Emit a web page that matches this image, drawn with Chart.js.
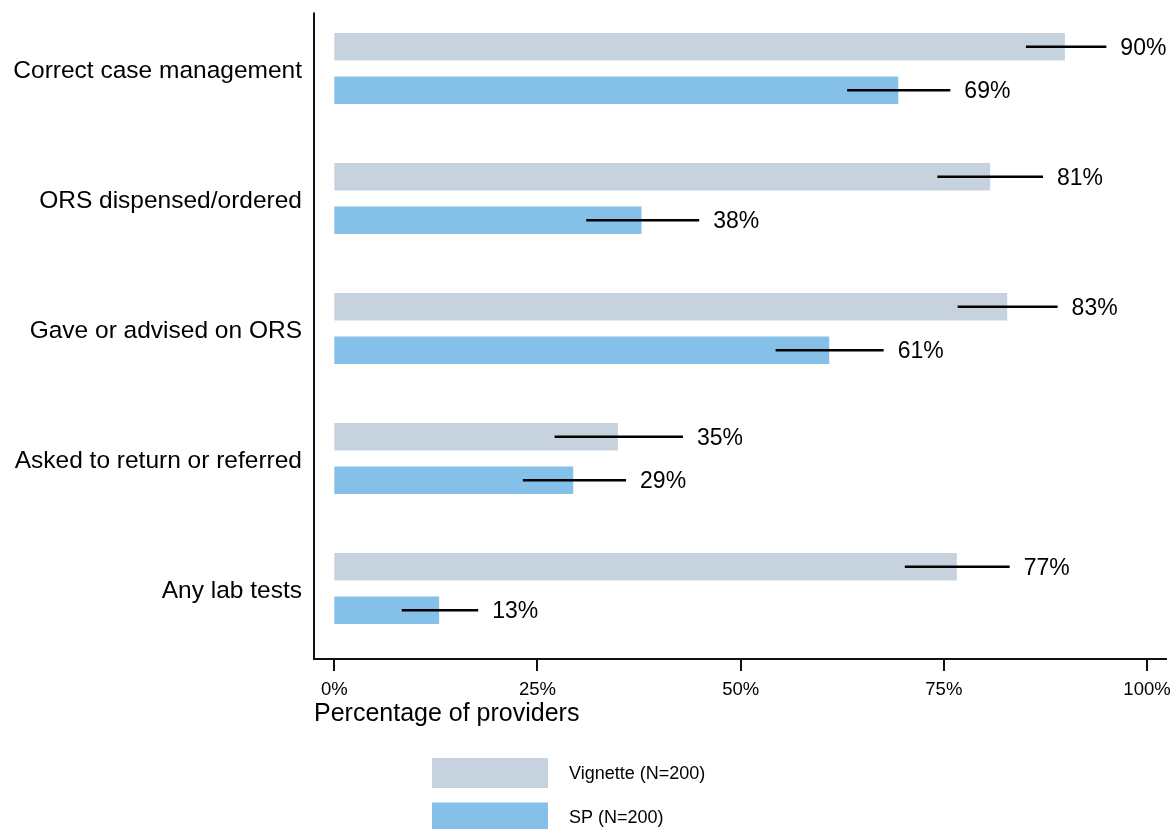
<!DOCTYPE html>
<html>
<head>
<meta charset="utf-8">
<script src="https://cdn.jsdelivr.net/npm/chart.js@4.4.1/dist/chart.umd.min.js"></script>
<style>
  body { margin: 0; background: #fff; }
  #wrap { width: 1174px; height: 829px; position: relative; }
</style>
</head>
<body>
<div id="wrap"><canvas id="canvas"></canvas></div>
<script>
var categories = ['Correct case management', 'ORS dispensed/ordered', 'Gave or advised on ORS', 'Asked to return or referred', 'Any lab tests'];
var vignette = [89.9, 80.7, 82.8, 34.9, 76.6];
var vignetteLo = [85.1, 74.2, 76.7, 27.1, 70.2];
var vignetteHi = [95.0, 87.2, 89.0, 42.9, 83.1];
var sp = [69.4, 37.8, 60.9, 29.4, 12.9];
var spLo = [63.1, 31.0, 54.3, 23.2, 8.3];
var spHi = [75.8, 44.9, 67.6, 35.9, 17.7];
var xTicks = [0, 25, 50, 75, 100];
var seriesNames = ['Vignette (N=200)', 'SP (N=200)'];

var FONT = "'Liberation Sans', Arial, Helvetica, sans-serif";
var ci = [[vignetteLo, vignetteHi], [spLo, spHi]];

// error bars + value labels
var ciPlugin = {
	id: 'ciBars',
	afterDatasetsDraw: function(chart) {
		var c = chart.ctx;
		var x = chart.scales.x;
		c.save();
		c.strokeStyle = '#000';
		c.lineWidth = 2.5;
		c.fillStyle = '#000';
		c.font = '23px ' + FONT;
		c.textAlign = 'left';
		c.textBaseline = 'middle';
		chart.data.datasets.forEach(function(ds, i) {
			var meta = chart.getDatasetMeta(i);
			meta.data.forEach(function(bar, j) {
				var lo = x.getPixelForValue(ci[i][0][j]);
				var hi = x.getPixelForValue(ci[i][1][j]);
				c.beginPath();
				c.moveTo(lo, bar.y);
				c.lineTo(hi, bar.y);
				c.stroke();
				c.fillText(Math.round(ds.data[j]) + '%', hi + 14, bar.y + 1.5);
			});
		});
		c.restore();
	}
};

// axis lines, ticks and the legend drawn stata-style
var axisPlugin = {
	id: 'axes',
	afterDraw: function(chart) {
		var c = chart.ctx;
		var a = chart.chartArea;
		var x = chart.scales.x;
		var yb = a.bottom + 5.5;
		c.save();
		c.strokeStyle = '#111';
		c.lineWidth = 2;
		c.beginPath();
		c.moveTo(a.left, a.top + 9);
		c.lineTo(a.left, yb + 1);
		c.moveTo(a.left, yb);
		c.lineTo(a.right, yb);
		xTicks.forEach(function(t) {
			var px = Math.round(x.getPixelForValue(t));
			c.moveTo(px, yb);
			c.lineTo(px, yb + 12);
		});
		c.stroke();

		// legend
		c.font = '18px ' + FONT;
		c.textAlign = 'left';
		c.textBaseline = 'middle';
		chart.data.datasets.forEach(function(ds, i) {
			var top = 758 + i * 44.5;
			c.fillStyle = ds.backgroundColor;
			c.fillRect(432, top, 116, 30);
			c.fillStyle = '#000';
			c.fillText(ds.label, 569, top + 16);
		});
		c.restore();
	}
};

const ctx = document.getElementById('canvas').getContext('2d');

const myChart = new Chart(ctx, {
  type: 'bar',
  data: {
	labels: categories,
	datasets: [{
	  label: seriesNames[0],
	  data: vignette,
	  backgroundColor: '#c6d3df',
	  borderWidth: 0
	}, {
	  label: seriesNames[1],
	  data: sp,
	  backgroundColor: '#85c0e9',
	  borderWidth: 0
	}]
  },
  options: {
	indexAxis: 'y',
	responsive: true,
	maintainAspectRatio: false,
	animation: false,
	categoryPercentage: 0.671,
	barPercentage: 0.63,
	layout: {
		padding: { top: 3.5, left: 0, right: 7, bottom: 99.8 }
	},
	scales: {
	  x: {
		type: 'linear',
		min: -2.5,
		max: 102.46,
		afterBuildTicks: function(s) {
			s.ticks = xTicks.map(function(v) { return { value: v }; });
		},
		afterFit: function(s) {
			s.height = 75.7;
			s.paddingLeft = 0;
			s.paddingRight = 0;
		},
		grid: { display: false, drawTicks: false },
		border: { display: false },
		ticks: {
			padding: 25,
			color: '#000',
			font: { family: FONT, size: 18.5 },
			maxRotation: 0,
			callback: function(v) { return v + '%'; }
		},
		title: {
			display: true,
			text: 'Percentage of providers',
			align: 'start',
			color: '#000',
			font: { family: FONT, size: 25 },
			padding: 0
		}
	  },
	  y: {
		afterFit: function(s) {
			s.width = 314;
			s.paddingTop = 0;
			s.paddingBottom = 0;
		},
		grid: { display: false, drawTicks: false },
		border: { display: false },
		ticks: {
			padding: 12,
			labelOffset: 3,
			color: '#000',
			font: { family: FONT, size: 24.5 }
		}
	  }
	},
	plugins: {
		legend: { display: false },
		tooltip: { enabled: false }
	}
  },
  plugins: [ciPlugin, axisPlugin]
});
</script>
</body>
</html>
